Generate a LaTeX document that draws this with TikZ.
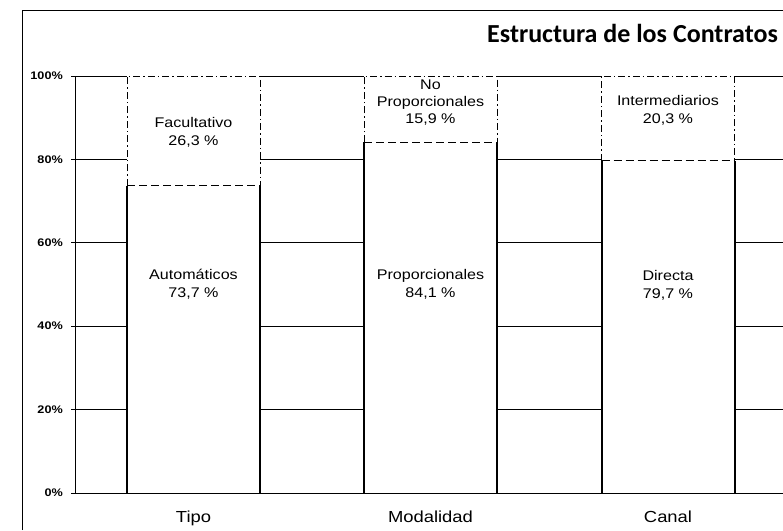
\documentclass[tikz,border=0pt]{standalone}
\usepackage{fontspec}
\setmainfont{Liberation Sans}[FakeStretch=1.15]
\newfontfamily\titlefont{Carlito}
\usetikzlibrary{positioning}
\tikzset{
frameline/.style={black,line width=1pt},
gridline/.style={black,line width=0.9pt},
axisline/.style={black,line width=1pt},
lowside/.style={black,line width=2pt},
upside/.style={black,line width=0.6pt,dash pattern=on 7pt off 3pt on 1.5pt off 3pt},
splitline/.style={black,line width=0.6pt,dash pattern=on 8pt off 4pt},
seglabel/.style={align=center,inner sep=0pt,font=\fontsize{14}{18}\selectfont},
ticklabel/.style={anchor=east,inner sep=0pt,font=\bfseries\fontsize{11}{13}\selectfont},
catlabel/.style={anchor=base,inner sep=0pt,font=\fontsize{16}{18}\selectfont},
titlelabel/.style={anchor=base east,inner sep=0pt,font=\titlefont\bfseries\fontsize{26}{30}\selectfont}
}

\begin{document}
\begin{tikzpicture}[x=1pt,y=1pt]
    \newcommand{\barhalf}{66.5}
    \newcommand{\pctunit}{4.17pt}
    \useasboundingbox (0,0) rectangle (783,530);
    {
      % frame and title
      \coordinate (frame-bl) at (22,0);
      \coordinate (frame-tl) at (22,519);
      \coordinate (frame-tr) at (783,519);
      \draw[frameline] (frame-bl) -- (frame-tl) -- (frame-tr);
      \node[titlelabel](title) at (778,487) {Estructura de los Contratos};
      %
      \begin{scope}[shift={(0,37)},y=\pctunit]
        \foreach \p in {20,40,...,100}
        \draw[gridline] (71,\p) -- (783,\p);
        \draw[axisline] (71,0) -- (783,0);
        \draw[axisline] (75,0) -- (75,100);
        \foreach \p in {0,20,...,100}
        \node[ticklabel](tick-\p) at (63,\p) {\p\%};
        %
        \foreach \c/\lo/\name in {193.5/73.7/tipo,430.5/84.1/modalidad,668/79.7/canal}
        {
          \coordinate (\name-bl) at (\c-\barhalf,0);
          \coordinate (\name-br) at (\c+\barhalf,0);
          \coordinate (\name-ml) at (\c-\barhalf,\lo);
          \coordinate (\name-mr) at (\c+\barhalf,\lo);
          \coordinate (\name-tl) at (\c-\barhalf,100);
          \coordinate (\name-tr) at (\c+\barhalf,100);
          \fill[white] (\name-bl) rectangle (\name-tr);
          \draw[axisline] (\name-bl) -- (\name-br);
          \draw[lowside] (\name-bl) -- (\name-ml);
          \draw[lowside] (\name-br) -- (\name-mr);
          \draw[splitline] (\name-ml) -- (\name-mr);
          \draw[upside] (\name-ml) -- (\name-tl) -- (\name-tr) -- (\name-mr);
        }
      \end{scope}
      %
      \node[seglabel](tipo-up) at (193.5,398) {Facultativo\\26,3 \%};
      \node[seglabel](tipo-lo) at (193.5,246) {Automáticos\\73,7 \%};
      \node[seglabel,font=\fontsize{14}{17}\selectfont](modalidad-up) at (430.5,427) {No\\Proporcionales\\15,9 \%};
      \node[seglabel](modalidad-lo) at (430.5,246) {Proporcionales\\84,1 \%};
      \node[seglabel](canal-up) at (668,420) {Intermediarios\\20,3 \%};
      \node[seglabel](canal-lo) at (668,245) {Directa\\79,7 \%};
      %
      \node[catlabel](cat-tipo) at (193.5,8) {Tipo};
      \node[catlabel](cat-modalidad) at (430.5,8) {Modalidad};
      \node[catlabel](cat-canal) at (668,8) {Canal};
    }
\end{tikzpicture}
\end{document}
